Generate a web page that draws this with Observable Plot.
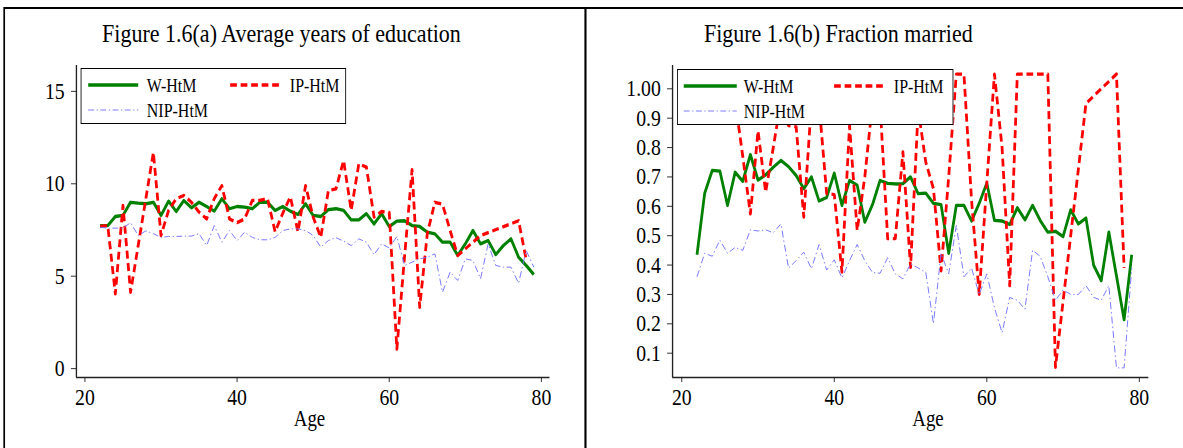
<!DOCTYPE html>
<html><head><meta charset="utf-8">
<script src="https://cdn.jsdelivr.net/npm/d3@7"></script>
<script src="https://cdn.jsdelivr.net/npm/@observablehq/plot@0.6"></script>
<style>
html,body{margin:0;padding:0;background:#fff;overflow:hidden;}
#page{position:relative;width:1409px;height:448px;transform:scaleX(0.84);transform-origin:0 0;font-family:"Liberation Serif","Times New Roman",serif;color:#000;}
.panel{position:absolute;border:2px solid #000;border-left-width:2.4px;border-right-width:2.4px;box-sizing:border-box;}
.title{position:absolute;font-size:26.2px;line-height:1;white-space:nowrap;transform:translateX(-50%);}
.xlab{position:absolute;font-size:22.5px;line-height:1;white-space:nowrap;transform:translateX(-50%);}
.plot{position:absolute;top:0;}
.legend{position:absolute;background:#fff;border:1px solid #000;border-left-width:1.2px;border-right-width:1.2px;box-sizing:border-box;}
.legend svg{position:absolute;overflow:visible;}
.legend .lt{position:absolute;font-size:19px;line-height:1;white-space:nowrap;}
</style></head><body><div id="page"></div>
<script>
// ---------- data ----------
const ages = [22,23,24,25,26,27,28,29,30,31,32,33,34,35,36,37,38,39,40,41,42,43,44,45,46,47,48,49,50,
  51,52,53,54,55,56,57,58,59,60,61,62,63,64,65,66,67,68,69,70,71,72,73,74,75,76,77,78,79];

// Figure 1.6(a) Average years of education
const eduW = [7.74,7.74,8.23,8.29,9.0,8.95,8.92,9.0,8.29,9.06,8.5,9.1,8.7,9.0,8.77,8.52,9.19,8.65,8.77,8.74,8.65,9.0,9.0,8.56,8.77,8.52,8.34,8.92,8.29,
  8.23,8.6,8.65,8.56,8.05,8.05,8.38,7.83,8.38,7.69,7.98,8.0,7.74,7.69,7.38,7.29,6.84,6.84,6.12,6.75,7.47,6.75,6.93,6.17,6.66,7.02,6.03,5.58,5.09];
const eduIP = [7.7,7.74,4.04,8.83,4.13,null,null,11.7,7.2,8.56,9.19,9.37,9.0,8.47,8.1,9.2,9.9,8.1,7.9,8.1,9.1,9.1,9.2,7.4,8.4,9.3,7.4,9.9,8.2,
  7.1,9.64,9.73,11.26,8.56,11.08,10.9,8.2,8.5,8.45,1.06,6.0,10.76,3.32,7.3,9.0,8.9,7.47,6.12,null,null,7.2,null,null,null,null,8.0,5.9,null];
const eduNIP = [7.65,7.6,7.6,7.6,7.9,7.2,7.45,7.3,7.1,7.15,7.15,7.17,7.17,7.3,6.66,7.74,6.84,7.47,6.93,7.38,7.1,6.97,6.97,7.1,7.47,7.56,7.56,7.47,7.2,
  6.57,6.93,7.08,6.9,6.66,7.02,6.84,6.17,6.75,6.53,7.15,5.58,5.76,5.94,6.03,6.21,4.13,5.22,4.77,5.94,5.85,4.86,6.75,5.58,5.49,5.49,4.62,6.39,5.49];

// Figure 1.6(b) Fraction married
const marW = [0.435,0.644,0.722,0.72,0.603,0.716,0.685,0.776,0.689,0.707,0.733,0.756,0.735,0.705,0.66,0.70,0.618,0.63,0.713,0.603,0.688,0.672,0.546,0.605,0.688,0.678,0.676,0.677,0.70,
  0.643,0.645,0.61,0.606,0.44,0.603,0.603,0.55,0.61,0.679,0.552,0.55,0.538,0.595,0.554,0.603,0.552,0.512,0.515,0.497,0.588,0.54,0.56,0.40,0.347,0.512,null,0.214,0.435];
const marIP = [null,null,null,null,null,0.96,0.77,0.574,0.857,0.648,0.80,0.96,0.875,0.87,0.563,0.95,0.95,0.643,0.64,0.376,0.875,0.518,0.70,0.95,0.95,0.49,0.49,0.785,0.392,
  0.93,0.75,0.66,0.38,0.70,1.05,1.05,0.62,0.30,0.68,1.05,0.80,0.33,1.05,1.05,1.05,1.05,1.05,0.052,null,null,null,0.95,null,null,null,1.05,0.39,null];
const marNIP = [0.36,0.44,0.43,0.485,0.44,0.46,0.45,0.52,0.516,0.52,0.51,0.54,0.39,0.415,0.444,0.387,0.47,0.383,0.418,0.356,0.415,0.47,0.415,0.375,0.372,0.425,0.37,0.353,0.404,
  0.39,0.375,0.20,0.44,0.37,0.535,0.36,0.39,0.30,0.37,0.255,0.17,0.29,0.28,0.25,0.45,0.43,0.36,0.28,0.315,0.30,0.30,0.33,0.29,0.28,0.33,0.05,0.05,0.39];

const seriesNames = ["W-HtM","IP-HtM","NIP-HtM"];
const xTicks = [20,40,60,80];
const eduTicks = [0,5,10,15];
const eduTickLabels = ["0","5","10","15"];
const marTicks = [0.1,0.2,0.3,0.4,0.5,0.6,0.7,0.8,0.9,1.0];
const marTickLabels = ["0.1","0.2","0.3","0.4","0.5","0.6","0.7","0.8","0.9","1.00"];
const titles = ["Figure 1.6(a) Average years of education","Figure 1.6(b) Fraction married"];
const xLabel = "Age";

// ---------- styles ----------
const S = 0.84; // horizontal condensation of the original picture
const u = px => px / S;
const styles = [
  {stroke:"#008000", strokeWidth:3.3, dash:null},
  {stroke:"#ff0000", strokeWidth:3.3, dash:"8,4.5"},
  {stroke:"#6f6fff", strokeWidth:1, dash:"7,3,1.5,3"}
];

const page = document.getElementById("page");
function el(tag, cls, css, text){
  const e = document.createElement(tag);
  if (cls) e.className = cls;
  Object.assign(e.style, css);
  if (text != null) e.textContent = text;
  page.appendChild(e);
  return e;
}

// panel frames
el("div","panel",{left:u(3)+"px",top:"7px",width:u(585-3+1.5)+"px",height:"470px"});
el("div","panel",{left:u(585)+"px",top:"7px",width:u(620)+"px",height:"470px"});

function series(arr){ return ages.map((a,i)=>({age:a, v:arr[i]})).filter(d=>d.v!=null); }

function makePanel(cfg){
  const svg = Plot.plot({
    width: cfg.width, height: 448,
    marginLeft: cfg.marginLeft, marginRight: cfg.marginRight, marginTop: 65, marginBottom: 71,
    style:{fontFamily:'"Liberation Serif","Times New Roman",serif', fontSize:"23.5px", color:"#000", background:"transparent", overflow:"visible"},
    x:{domain: cfg.xDomain},
    y:{domain: cfg.yDomain},
    marks:[
      Plot.ruleY([cfg.yDomain[0]], {stroke:"#222", strokeWidth:1.6}),
      Plot.ruleX([cfg.xDomain[0]], {stroke:"#222", strokeWidth:1.6}),
      Plot.axisX({ticks: xTicks, tickSize:5, tickPadding:6, stroke:"#222", label:null}),
      Plot.axisY({ticks: cfg.yTicks, tickFormat: d => cfg.yLabels[cfg.yTicks.indexOf(d)], tickSize:6, tickPadding:8, stroke:"#222", label:null}),
      ...cfg.data.map((arr,k)=>Plot.line(series(arr), {x:"age", y:"v", stroke:styles[k].stroke, strokeWidth:styles[k].strokeWidth,
        strokeDasharray: styles[k].dash || undefined, strokeLinejoin:"round", strokeLinecap:"butt"}))
    ]
  });
  svg.classList.add("plot");
  svg.style.left = cfg.left + "px";
  page.appendChild(svg);
}

// left panel: y axis at 76px, x axis from 76 to 549.5px; 20->84.5, 80->541
makePanel({
  left: 0, width: u(585), marginLeft: u(76), marginRight: u(585-549.5),
  xDomain:[18.883, 81.117], yDomain:[-0.48, 16.40],
  yTicks: eduTicks, yLabels: eduTickLabels, data:[eduW, eduIP, eduNIP]
});
// right panel: y axis at 672.5px, x axis to 1148.7px; 20->681.7, 80->1139.3
makePanel({
  left: u(585), width: u(598), marginLeft: u(672.5-585), marginRight: u(1183-1148.7),
  xDomain:[18.794, 81.232], yDomain:[0.0173, 1.0793],
  yTicks: marTicks, yLabels: marTickLabels, data:[marW, marIP, marNIP]
});

// titles and axis labels
el("div","title",{left:u(281.5)+"px", top:"20.5px"}, titles[0]);
el("div","title",{left:u(838.3)+"px", top:"20.5px"}, titles[1]);
el("div","xlab",{left:u(309.5)+"px", top:"408px"}, xLabel);
el("div","xlab",{left:u(928)+"px", top:"408px"}, xLabel);

// legends
function legend(box){
  const L = el("div","legend",{left:u(box.x)+"px", top:box.y+"px", width:u(box.w)+"px", height:box.h+"px"});
  box.items.forEach(it=>{
    const st = styles[it.k];
    const s = document.createElementNS("http://www.w3.org/2000/svg","svg");
    s.setAttribute("width", u(it.x2-it.x1)); s.setAttribute("height", 8);
    s.style.left = u(it.x1)+"px"; s.style.top = (it.y-4)+"px";
    const ln = document.createElementNS("http://www.w3.org/2000/svg","line");
    ln.setAttribute("x1",0); ln.setAttribute("x2",u(it.x2-it.x1)); ln.setAttribute("y1",4); ln.setAttribute("y2",4);
    ln.setAttribute("stroke", st.stroke); ln.setAttribute("stroke-width", st.strokeWidth);
    if (st.dash) ln.setAttribute("stroke-dasharray", st.dash);
    s.appendChild(ln); L.appendChild(s);
    const t = document.createElement("div"); t.className="lt"; t.textContent = seriesNames[it.k];
    t.style.left = u(it.tx)+"px"; t.style.top = (it.y - 9)+"px";
    L.appendChild(t);
  });
}
legend({x:81, y:68, w:265, h:56, items:[
  {k:0, x1:6, x2:56, tx:65, y:16},
  {k:1, x1:148, x2:199, tx:208, y:16},
  {k:2, x1:6, x2:56, tx:65, y:41}
]});
legend({x:677, y:68.5, w:276, h:56, items:[
  {k:0, x1:6, x2:59, tx:66, y:16},
  {k:1, x1:156, x2:208, tx:216, y:16},
  {k:2, x1:6, x2:59, tx:66, y:41}
]});
</script></body></html>
